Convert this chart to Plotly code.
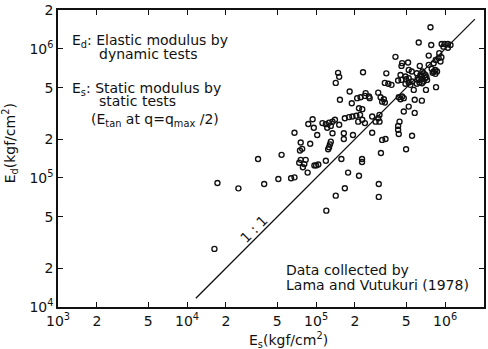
import plotly.graph_objects as go

# Static modulus Es (kgf/cm2) and dynamic modulus Ed (kgf/cm2)
es = [
    7.7e5, 6.24e5, 7.8e5, 9.4e5, 9.9e5, 1.05e6, 1.1e6, 9.7e5, 1.05e6,
    7.46e5, 9.0e5, 9.35e5, 8.9e5, 8.45e5, 9.2e5, 8.15e5,
    7.86e5, 8.4e5, 8.65e5, 8.15e5, 8.0e5, 8.4e5,
    7.46e5, 6.8e5, 6.6e5, 7.0e5, 7.24e5, 6.8e5, 6.24e5,
    7.1e5, 8.5e5, 6.6e5,
    4.12e5, 4.64e5, 4.59e5, 5.16e5, 6.36e5, 5.22e5, 5.51e5, 6.67e5,
    4.51e5, 4.93e5, 5.22e5, 6.03e5, 6.43e5, 6.13e5,
    6.55e5, 6.62e5, 7.16e5, 7.03e5,
    1.48e5, 1.51e5, 1.42e5, 2.31e5, 3.5e5,
    3.41e5, 3.63e5, 3.84e5, 4.32e5, 4.59e5, 4.98e5,
    4.93e5, 5.22e5, 5.54e5, 5.38e5, 6.03e5, 6.32e5, 5.71e5,
    4.64e5, 4.37e5, 4.78e5, 4.51e5, 5.81e5, 3.03e5,
    3.16e5, 3.35e5, 3.25e5, 3.41e5,
    2.08e5, 2.21e5, 2.39e5, 2.42e5, 2.57e5, 2.6e5,
    1.82e5, 1.53e5, 1.89e5,
    5.22e5, 4.78e5, 5.81e5,
    2.15e5, 2.28e5, 2.19e5,
    3.1e5, 3.03e5, 2.89e5, 3.1e5, 2.72e5,
    2.28e5, 2.39e5, 2.12e5,
    4.43e5, 4.32e5, 4.32e5, 4.37e5, 5.54e5, 2.72e5,
    3.25e5, 3.45e5, 4.98e5, 3.18e5,
    1.67e5, 1.8e5, 1.91e5, 2.05e5, 1.51e5,
    9.4e4, 8.7e4, 9.6e4,
    1.12e5, 1.19e5, 1.26e5, 1.34e5, 1.4e5, 1.3e5, 1.22e5,
    6.8e4, 1.02e5, 1.34e5, 1.64e5, 1.64e5, 1.93e5,
    7.6e4, 7.8e4, 7.5e4, 9.0e4,
    1.3e5, 1.28e5, 1.26e5, 1.24e5,
    5.4e4, 3.55e4,
    7.6e4, 8.3e4, 7.4e4, 8.1e4,
    1.0e5, 1.04e5, 9.7e4, 1.19e5, 1.57e5, 2.27e5, 2.27e5,
    7.9e4, 8.6e4, 1.77e5, 2.15e5,
    6.4e4, 6.8e4, 5.1e4, 3.96e4, 2.5e4, 1.72e4, 1.63e4,
    3.06e5, 3.06e5, 1.67e5, 1.42e5, 1.2e5,
]
ed = [
    1.47e6, 1.12e6, 1.07e6, 1.09e6, 1.09e6, 1.09e6, 1.07e6, 1.04e6, 1.02e6,
    8.87e5, 9.26e5, 8.62e5, 8.5e5, 8.2e5, 7.97e5, 7.75e5,
    7.0e5, 6.87e5, 6.67e5, 6.67e5, 6.52e5, 6.4e5,
    7.52e5, 6.48e5, 6.1e5, 5.93e5, 5.75e5, 5.58e5, 5.75e5,
    4.81e5, 5.05e5, 3.97e5,
    8.67e5, 7.75e5, 7.38e5, 7.83e5, 7.38e5, 6.87e5, 6.67e5, 6.67e5,
    6.28e5, 6.1e5, 5.93e5, 6.48e5, 6.28e5, 5.96e5,
    5.82e5, 5.42e5, 6.04e5, 6.28e5,
    6.52e5, 6.07e5, 5.45e5, 6.58e5, 6.46e5,
    5.45e5, 5.36e5, 5.26e5, 5.68e5, 5.75e5, 5.82e5,
    5.36e5, 5.48e5, 5.58e5, 5.26e5, 5.36e5, 5.48e5, 4.81e5,
    4.27e5, 4.22e5, 4.15e5, 4.07e5, 4.03e5, 4.58e5,
    4.22e5, 4.07e5, 3.9e5, 3.84e5,
    4.15e5, 4.22e5, 4.32e5, 4.54e5, 4.27e5, 4.15e5,
    4.67e5, 4.03e5, 3.79e5,
    3.57e5, 3.27e5, 3.19e5,
    3.47e5, 3.41e5, 3.08e5,
    3.08e5, 2.9e5, 2.73e5, 2.73e5, 2.99e5,
    2.82e5, 2.66e5, 2.73e5,
    2.73e5, 2.53e5, 2.36e5, 2.19e5, 2.12e5, 2.24e5,
    1.97e5, 2.0e5, 1.67e5, 1.56e5,
    2.9e5, 2.96e5, 2.99e5, 3.03e5, 2.58e5,
    2.85e5, 2.62e5, 2.45e5,
    2.66e5, 2.61e5, 2.68e5, 2.73e5, 2.82e5, 2.53e5, 2.45e5,
    2.24e5, 2.15e5, 2.22e5, 2.22e5, 2.0e5, 2.15e5,
    1.88e5, 1.68e5, 1.63e5, 1.84e5,
    1.91e5, 1.82e5, 1.73e5, 1.67e5,
    1.51e5, 1.4e5,
    1.38e5, 1.38e5, 1.31e5, 1.28e5,
    1.25e5, 1.27e5, 1.25e5, 1.36e5, 1.4e5, 1.4e5, 1.33e5,
    1.21e5, 1.1e5, 1.1e5, 1.04e5,
    9.95e4, 1.01e5, 9.8e4, 8.98e4, 8.3e4, 9.14e4, 2.82e4,
    8.98e4, 7.13e4, 8.32e4, 7.29e4, 5.58e4,
]

# 1:1 reference line
line_es = [1.17e4, 1.7e6]
line_ed = [1.17e4, 1.7e6]

x_tickvals = [1e3, 2e3, 5e3, 1e4, 2e4, 5e4, 1e5, 2e5, 5e5, 1e6, 2e6]
x_ticktext = ["10<sup>3</sup>", "2", "5", "10<sup>4</sup>", "2", "5",
              "10<sup>5</sup>", "2", "5", "10<sup>6</sup>", "2"]
y_tickvals = [1e4, 2e4, 5e4, 1e5, 2e5, 5e5, 1e6, 2e6]
y_ticktext = ["10<sup>4</sup>", "2", "5", "10<sup>5</sup>", "2", "5",
              "10<sup>6</sup>", "2"]

FONT = "DejaVu Sans"
INK = "#111111"

fig = go.Figure()
fig.add_trace(go.Scatter(x=line_es, y=line_ed, mode="lines",
                         line=dict(color=INK, width=1.3),
                         showlegend=False, hoverinfo="skip"))
fig.add_trace(go.Scatter(x=es, y=ed, mode="markers",
                         marker=dict(symbol="circle-open", size=5, color=INK,
                                     line=dict(width=1.4)),
                         showlegend=False))

axis_common = dict(type="log", showgrid=False, zeroline=False,
                   showline=True, linecolor=INK, linewidth=1.5, mirror="ticks",
                   ticks="inside", ticklen=5, tickwidth=1.2, tickcolor=INK,
                   tickfont=dict(family=FONT, size=14, color=INK))

fig.update_xaxes(range=[3, 6.30103], tickvals=x_tickvals, ticktext=x_ticktext,
                 **axis_common)
fig.update_yaxes(range=[4, 6.30103], tickvals=y_tickvals, ticktext=y_ticktext,
                 **axis_common)

def note(text, x, y, xanchor="left", yanchor="middle", angle=0):
    fig.add_annotation(text=text, x=x, y=y, xref="paper", yref="paper",
                       xanchor=xanchor, yanchor=yanchor, showarrow=False,
                       textangle=angle,
                       font=dict(family=FONT, size=14, color=INK))

note("E<sub>d</sub>: Elastic modulus by", 0.028, 0.897)
note("dynamic tests", 0.091, 0.853)
note("E<sub>s</sub>: Static modulus by", 0.028, 0.735)
note("static tests", 0.091, 0.692)
note("(E<sub>tan</sub> at q=q<sub>max</sub> /2)", 0.072, 0.628)
note("Data collected by", 0.530, 0.125)
note("Lama and Vutukuri (1978)", 0.530, 0.074)
note("1 : 1", 0.460, 0.263, xanchor="center", angle=-45)
note("E<sub>d</sub>(kgf/cm<sup>2</sup>)", -0.112, 0.552, xanchor="center", angle=-90)
note("E<sub>s</sub>(kgf/cm<sup>2</sup>)", 0.542, -0.111, xanchor="center")

fig.update_layout(width=488, height=349,
                  margin=dict(l=58, r=2, t=10, b=42),
                  paper_bgcolor="white", plot_bgcolor="white",
                  font=dict(family=FONT, size=14, color=INK))

fig.write_html("out.html", config={"displayModeBar": False},
               post_script="document.body.style.margin='0px';document.body.style.overflow='hidden';")
